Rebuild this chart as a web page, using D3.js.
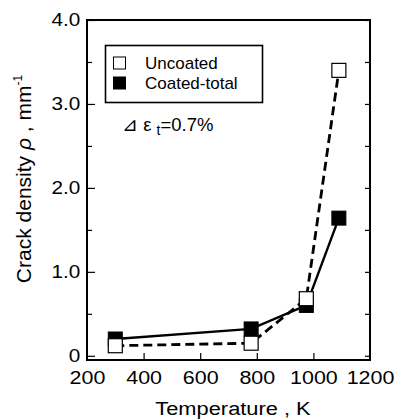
<!DOCTYPE html>
<html>
<head>
<meta charset="utf-8">
<script src="https://cdn.jsdelivr.net/npm/d3@7"></script>
<style>
  body { margin: 0; background: #fff; }
  svg { display: block; }
  text { font-family: "Liberation Sans", Arial, sans-serif; fill: #000; }
</style>
</head>
<body>
<div id="chart"></div>
<script>
// data
var temperatures = [300, 780, 975, 1090];
var uncoated = [0.12, 0.15, 0.68, 3.40];
var coatedTotal = [0.20, 0.32, 0.60, 1.64];
var xTicks = [200, 400, 600, 800, 1000, 1200];
var yTicks = [0, 1, 2, 3, 4];
var yTickLabels = ["0", "1.0", "2.0", "3.0", "4.0"];
var yMinorTicks = [0.5, 1.5, 2.5, 3.5];
var legendNames = ["Uncoated", "Coated-total"];

const width = 397, height = 419;
const margin = { top: 20, right: 27, bottom: 59, left: 87 };
const plotW = width - margin.left - margin.right;
const plotH = height - margin.top - margin.bottom;

const svg = d3.select("#chart").append("svg")
    .attr("width", width)
    .attr("height", height);

const x = d3.scaleLinear().domain([200, 1200]).range([margin.left, margin.left + plotW]);
const y = d3.scaleLinear().domain([-0.05, 4.0]).range([margin.top + plotH, margin.top]);

// bottom axis, ticks pointing inward
const xAxis = svg.append("g")
    .attr("transform", `translate(0,${margin.top + plotH})`)
    .call(d3.axisBottom(x).tickValues(xTicks).tickSize(-7).tickPadding(11)
        .tickFormat(d3.format("d")).tickSizeOuter(0));
xAxis.select(".domain").remove();
xAxis.selectAll(".tick line").attr("stroke-width", 1.2)
    .filter(d => d === 200 || d === 1200).remove();
xAxis.selectAll("text")
    .style("font-size", "18.5px")
    .attr("dy", "0.71em")
    .attr("transform", "scale(1.16,1)");

// left axis
const yAxis = svg.append("g")
    .attr("transform", `translate(${margin.left},0)`)
    .call(d3.axisLeft(y).tickValues(yTicks).tickSize(-8).tickPadding(6)
        .tickFormat((d, i) => yTickLabels[i]));
yAxis.select(".domain").remove();
yAxis.selectAll(".tick line").attr("stroke-width", 1.2);
yAxis.selectAll("text")
    .style("font-size", "18.5px")
    .attr("transform", "scale(1.12,1)");

svg.append("g")
    .attr("transform", `translate(${margin.left},0)`)
    .call(d3.axisLeft(y).tickValues(yMinorTicks).tickSize(-5).tickFormat(""))
    .call(g => g.select(".domain").remove())
    .selectAll(".tick line").attr("stroke-width", 1.2);

// right axis mirror ticks
svg.append("g")
    .attr("transform", `translate(${margin.left + plotW},0)`)
    .call(d3.axisRight(y).tickValues(yTicks.concat(yMinorTicks)).tickSize(-5).tickFormat(""))
    .call(g => g.select(".domain").remove())
    .selectAll(".tick line").attr("stroke-width", 1.2);

// frame
svg.append("rect")
    .attr("x", margin.left)
    .attr("y", margin.top)
    .attr("width", plotW)
    .attr("height", plotH)
    .attr("fill", "none")
    .attr("stroke", "#000")
    .attr("stroke-width", 2);

// lines
const line = d3.line()
    .x((d, i) => x(temperatures[i]))
    .y(d => y(d));

svg.append("path")
    .datum(coatedTotal)
    .attr("d", line)
    .attr("fill", "none")
    .attr("stroke", "#000")
    .attr("stroke-width", 2.4);

svg.append("path")
    .datum(uncoated)
    .attr("d", line)
    .attr("fill", "none")
    .attr("stroke", "#000")
    .attr("stroke-width", 2.8)
    .attr("stroke-dasharray", "9,5");

// markers
const ms = 14;
svg.append("g").selectAll("rect")
    .data(coatedTotal)
    .join("rect")
    .attr("x", (d, i) => x(temperatures[i]) - ms / 2)
    .attr("y", d => y(d) - ms / 2)
    .attr("width", ms)
    .attr("height", ms)
    .attr("fill", "#000")
    .attr("stroke", "#000");

svg.append("g").selectAll("rect")
    .data(uncoated)
    .join("rect")
    .attr("x", (d, i) => x(temperatures[i]) - ms / 2)
    .attr("y", d => y(d) - ms / 2)
    .attr("width", ms)
    .attr("height", ms)
    .attr("fill", "#fff")
    .attr("stroke", "#000")
    .attr("stroke-width", 1.2);

// legend
const legend = svg.append("g");
legend.append("rect")
    .attr("x", 105.5).attr("y", 45.5)
    .attr("width", 157).attr("height", 57)
    .attr("fill", "#fff")
    .attr("stroke", "#000")
    .attr("stroke-width", 1.6);

legendNames.forEach(function (name, i) {
    const cy = 63 + i * 20;
    legend.append("rect")
        .attr("x", 113.5).attr("y", cy - 6)
        .attr("width", 12).attr("height", 12)
        .attr("fill", i === 0 ? "#fff" : "#000")
        .attr("stroke", "#000")
        .attr("stroke-width", 1);
    legend.append("text")
        .attr("x", 145)
        .attr("y", cy + 6)
        .style("font-size", "17px")
        .text(name);
});

// strain annotation
const note = svg.append("text")
    .attr("x", 122)
    .attr("y", 131)
    .style("font-size", "18.5px");
note.append("tspan").text("⊿ ε ");
note.append("tspan").attr("dy", 4).style("font-size", "14px").text("t");
note.append("tspan").attr("dy", -4).text("=0.7%");

// axis titles
svg.append("text")
    .attr("x", 233)
    .attr("y", 415)
    .attr("text-anchor", "middle")
    .style("font-size", "19px")
    .attr("transform", "translate(233,0) scale(1.15,1) translate(-233,0)")
    .text("Temperature , K");

const yTitle = svg.append("text")
    .attr("transform", "translate(31,179) rotate(-90)")
    .attr("text-anchor", "middle")
    .style("font-size", "21px");
yTitle.append("tspan").text("Crack density ");
yTitle.append("tspan").style("font-style", "italic").text("ρ");
yTitle.append("tspan").text(" , mm");
yTitle.append("tspan").attr("dy", -9).style("font-size", "12px").text("-1");
</script>
</body>
</html>
